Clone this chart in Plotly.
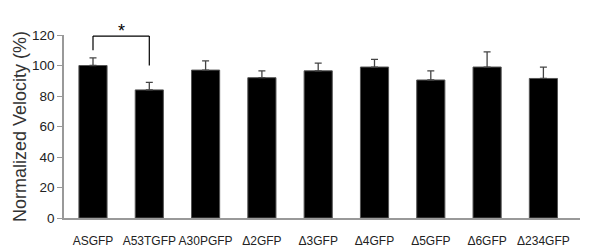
import plotly.graph_objects as go

categories = ["ASGFP", "A53TGFP", "A30PGFP", "Δ2GFP", "Δ3GFP", "Δ4GFP", "Δ5GFP", "Δ6GFP", "Δ234GFP"]
values = [100, 84, 97, 92, 96.5, 99, 90.5, 99, 91.5]
errors = [5, 5, 6, 4.5, 5, 5, 6, 10, 7.5]
y_ticks = [0, 20, 40, 60, 80, 100, 120]

# significance bracket between first two groups
sig_left_bottom = 110
sig_top = 119.3
sig_right_bottom = 100
sig_label = "*"

fig = go.Figure()
fig.add_trace(go.Bar(
    x=categories, y=values,
    width=0.5,
    marker=dict(color="black", line=dict(color="#555555", width=1)),
    error_y=dict(type="data", array=errors, symmetric=False, arrayminus=[0]*len(errors),
                 color="#444444", thickness=1.3, width=3.5),
    showlegend=False,
))

fig.add_shape(type="line", xref="x", yref="y", x0=0, x1=0, y0=sig_left_bottom, y1=sig_top,
              line=dict(color="black", width=1.2))
fig.add_shape(type="line", xref="x", yref="y", x0=0, x1=1, y0=sig_top, y1=sig_top,
              line=dict(color="black", width=1.2))
fig.add_shape(type="line", xref="x", yref="y", x0=1, x1=1, y0=sig_right_bottom, y1=sig_top,
              line=dict(color="black", width=1.2))
fig.add_annotation(x=0.5, y=sig_top, xref="x", yref="y", text=sig_label, showarrow=False,
                   yanchor="bottom", yshift=-7, font=dict(size=18, color="black",
                                                          family="Liberation Sans, Arial, sans-serif"))

fig.update_layout(
    width=600, height=250,
    margin=dict(l=64, r=20, t=35, b=32),
    plot_bgcolor="white", paper_bgcolor="white",
    font=dict(family="Liberation Sans, Arial, sans-serif", color="#222222"),
    bargap=0.5,
)
fig.update_xaxes(
    range=[-0.515, 8.65], automargin=False, tickangle=0,
    showline=True, linecolor="#999999", linewidth=1.5,
    ticks="outside", ticklen=11, tickcolor="rgba(0,0,0,0)",
    tickfont=dict(size=12, color="#222222"),
    showgrid=False, zeroline=False,
)
fig.update_yaxes(
    range=[0, 120], tickvals=y_ticks, automargin=False,
    showline=True, linecolor="#999999", linewidth=1.5,
    ticks="outside", ticklen=5, tickcolor="#999999", tickwidth=1,
    tickfont=dict(size=13.5, color="#222222"),
    showgrid=False, zeroline=False,
    title=dict(text="Normalized Velocity (%)", font=dict(size=18, color="#333333"), standoff=1),
)

fig.write_html("out.html", config={"displayModeBar": False},
               post_script="document.body.style.margin='0';")
